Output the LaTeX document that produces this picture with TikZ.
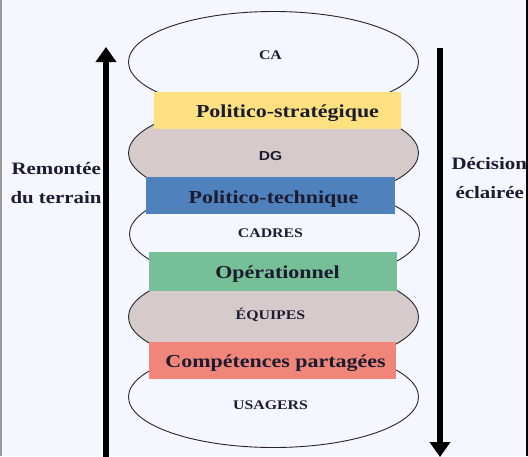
\documentclass[tikz,border=0pt]{standalone}
\usepackage{fontspec}
\setmainfont{Liberation Serif}[FakeStretch=1.2]
\setsansfont{Liberation Sans}[FakeStretch=1.2]
\usetikzlibrary{arrows.meta,shapes.geometric}
\definecolor{bgpaper}{HTML}{F5F7FE}
\definecolor{ink}{HTML}{1C1C30}
\definecolor{strat}{HTML}{FDE07F}
\definecolor{tech}{HTML}{4F81BD}
\definecolor{oper}{HTML}{77C097}
\definecolor{share}{HTML}{F0857A}
\definecolor{taupe}{HTML}{D6CACA}
\tikzset{
  level/.style={ellipse, draw=black!85, line width=0.9pt, minimum width=290pt, minimum height=101pt, inner sep=0pt},
  bandtext/.style={anchor=base, text=ink, font=\bfseries\fontsize{18.3}{22}\selectfont},
  leveltext/.style={anchor=base, text=ink, font=\bfseries\fontsize{13.2}{16}\selectfont},
  sidetext/.style={anchor=base west, text=ink, font=\bfseries\fontsize{17.4}{22}\selectfont},
  flow/.style={line width=6pt, -{Triangle[length=15pt,width=20pt]}},
}
\begin{document}
\begin{tikzpicture}[x=1pt,y=-1pt]
\useasboundingbox (0,0) rectangle (528,456);
\fill[bgpaper] (0,0) rectangle (528,456);

% hierarchy levels
\node[level, fill=bgpaper] (ca) at (273.5,62) {};
\node[level, fill=taupe] (dg) at (273.5,153) {};
\node[level, fill=bgpaper] (cadres) at (274.5,234) {};
\node[level, fill=taupe] (equipes) at (273.5,317) {};
\node[level, fill=bgpaper] (usagers) at (273.5,397) {};

% bands between levels
\fill[strat] (154,92) rectangle (401,129);
\fill[tech] (146,177) rectangle (395,214);
\fill[oper] (149,252) rectangle (397,291);
\fill[share] (149,342) rectangle (396,379);

% band labels
\node[bandtext] (tstrat) at (287.5,117) {Politico-stratégique};
\node[bandtext] (ttech) at (273.5,203) {Politico-technique};
\node[bandtext] (toper) at (277.5,278) {Opérationnel};
\node[bandtext] (tshare) at (275.5,367) {Compétences partagées};

% level labels
\node[leveltext] (lca) at (270.5,59) {CA};
\node[leveltext, font=\bfseries\sffamily\fontsize{13}{16}\selectfont] (ldg) at (270.5,160) {DG};
\node[leveltext] (lcadres) at (270.5,237) {CADRES};
\node[leveltext] (lequipes) at (270.5,319) {ÉQUIPES};
\node[leveltext] (lusagers) at (270.5,409) {USAGERS};

% side labels
\node[sidetext] (up1) at (8,174) {Remontée};
\node[sidetext] (up2) at (7,203) {du terrain};
\node[sidetext] (down1) at (448,169) {Décision};
\node[sidetext] (down2) at (452,198) {éclairée};

% flows
\coordinate (upstart) at (106,460);
\coordinate (upend) at (106,47);
\coordinate (downstart) at (440,48);
\coordinate (downend) at (440,457);
\draw[flow] (upstart) -- (upend);
\draw[flow] (downstart) -- (downend);

% frame edges
\draw[line width=2pt, black!40] (1,0) -- (1,456);
\draw[line width=2pt, black] (527,0) -- (527,456);
\end{tikzpicture}
\end{document}
